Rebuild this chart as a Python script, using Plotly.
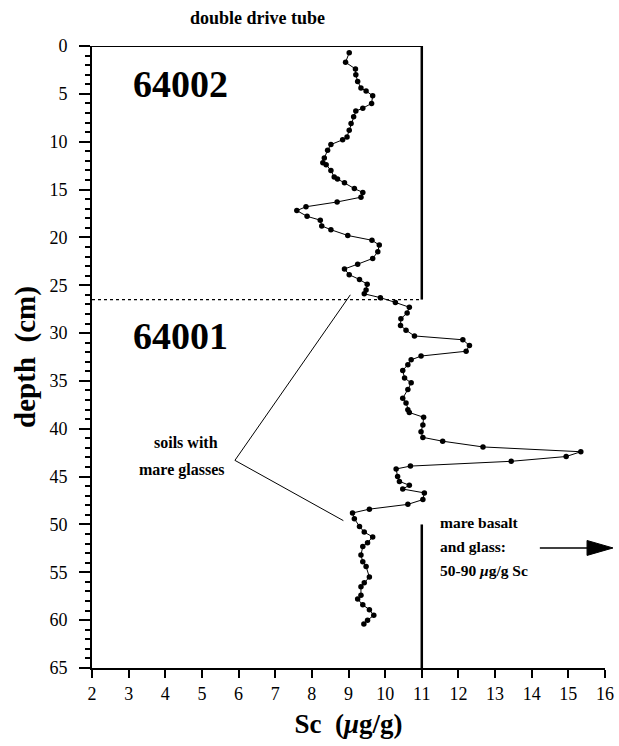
import plotly.graph_objects as go

# Depth profile of Sc in double drive tube 64002/64001
depth_cm = [0.7, 1.7, 2.4, 3.0, 3.7, 4.4, 4.7, 5.2, 6.0, 6.5, 6.8, 7.4, 8.1, 8.8, 9.5, 9.8,
            10.3, 10.9, 11.7, 12.2, 12.4, 13.0, 13.7, 13.9, 14.3, 14.9, 15.3, 15.8, 16.3,
            16.8, 17.2, 17.8, 18.2, 18.8, 19.2, 19.8, 20.3, 20.8, 21.5, 22.2, 22.8, 23.3,
            23.9, 24.4, 24.9, 25.5, 25.9, 26.3, 26.8, 27.3, 27.9, 28.5, 29.2, 29.7, 30.3,
            30.7, 31.3, 31.9, 32.4, 32.8, 33.3, 33.9, 34.7, 35.2, 35.9, 36.8, 37.3, 38.0,
            38.3, 38.8, 39.6, 40.3, 40.9, 41.3, 41.9, 42.4, 42.9, 43.4, 43.9, 44.2, 45.0,
            45.5, 45.9, 46.3, 46.7, 47.4, 47.9, 48.4, 48.8, 49.4, 50.2, 50.8, 51.3, 51.9,
            52.3, 53.2, 53.9, 54.4, 55.5, 56.1, 56.5, 57.4, 57.8, 58.4, 58.9, 59.5, 60.0, 60.4]
sc_ugg = [9.02, 8.92, 9.19, 9.20, 9.25, 9.34, 9.48, 9.66, 9.63, 9.39, 9.20, 9.14, 9.07, 9.02,
          8.96, 8.84, 8.52, 8.43, 8.34, 8.30, 8.39, 8.52, 8.61, 8.70, 8.89, 9.16, 9.39, 9.34,
          8.69, 7.84, 7.59, 7.87, 8.23, 8.27, 8.52, 8.98, 9.64, 9.84, 9.80, 9.66, 9.25, 8.89,
          9.02, 9.30, 9.51, 9.48, 9.43, 9.87, 10.28, 10.66, 10.60, 10.43, 10.42, 10.57, 10.80,
          12.12, 12.30, 12.21, 10.98, 10.71, 10.62, 10.48, 10.53, 10.71, 10.62, 10.48, 10.57,
          10.62, 10.66, 11.05, 11.03, 10.98, 11.03, 11.57, 12.67, 15.34, 14.94, 13.44, 10.69,
          10.30, 10.34, 10.39, 10.66, 10.48, 11.07, 11.03, 10.62, 9.57, 9.11, 9.16, 9.30, 9.43,
          9.66, 9.52, 9.39, 9.34, 9.39, 9.48, 9.57, 9.43, 9.34, 9.34, 9.25, 9.39, 9.57, 9.69,
          9.52, 9.42]

x_ticks = list(range(2, 17))
y_ticks = list(range(0, 66, 5))
boundary_depth = 26.5
FONT = "Liberation Serif"

fig = go.Figure()
fig.add_trace(go.Scatter(
    x=sc_ugg, y=depth_cm, mode="lines+markers",
    line=dict(color="black", width=1),
    marker=dict(color="black", size=5.5),
    showlegend=False, hoverinfo="skip"))

# structural lines
fig.add_shape(type="line", xref="x", yref="y", x0=2, x1=11, y0=0, y1=0,
              line=dict(color="black", width=2))
fig.add_shape(type="line", xref="x", yref="y", x0=11, x1=11, y0=0, y1=boundary_depth,
              line=dict(color="black", width=2.5))
fig.add_shape(type="line", xref="x", yref="y", x0=2, x1=11, y0=boundary_depth, y1=boundary_depth,
              line=dict(color="black", width=1.2, dash="dot"))
fig.add_shape(type="line", xref="x", yref="y", x0=11, x1=11, y0=50, y1=65,
              line=dict(color="black", width=2.5))

# leader lines from label
fig.add_shape(type="line", xref="x", yref="y", x0=5.9, y0=43.3, x1=9.05, y1=26.0,
              line=dict(color="black", width=1))
fig.add_shape(type="line", xref="x", yref="y", x0=5.9, y0=43.3, x1=8.86, y1=49.6,
              line=dict(color="black", width=1))

# arrow (paper coords, outside plot allowed)
fig.add_shape(type="line", xref="paper", yref="paper", x0=0.873, x1=0.975, y0=0.193, y1=0.193,
              line=dict(color="black", width=1.5))
fig.add_shape(type="path", xref="paper", yref="paper",
              path="M 0.965 0.205 L 1.0156 0.193 L 0.965 0.181 Z",
              fillcolor="black", line=dict(color="black", width=1))

def ann(text, x, y, size, bold=False, xanchor="center", align="center", xref="x", yref="y"):
    t = f"<b>{text}</b>" if bold else text
    fig.add_annotation(text=t, x=x, y=y, xref=xref, yref=yref, showarrow=False,
                       font=dict(family=FONT, size=size, color="black"),
                       xanchor=xanchor, yanchor="middle", align=align)

ann("64002", 4.41, 4.0, 38, bold=True)
ann("64001", 4.41, 30.3, 38, bold=True)
ann("soils with", 4.57, 41.4, 16, bold=True)
ann("mare glasses", 4.45, 44.3, 16, bold=True)
ann("mare basalt", 11.45, 49.8, 15.5, bold=True, xanchor="left")
ann("and glass:", 11.45, 52.35, 15.5, bold=True, xanchor="left")
ann("50-90 <i>μ</i>g/g Sc", 11.45, 54.8, 15.5, bold=True, xanchor="left")
fig.add_annotation(text="<b>double drive tube</b>", x=(257 - 92) / 513, y=1.045,
                   xref="paper", yref="paper", showarrow=False,
                   xanchor="center", yanchor="middle",
                   font=dict(family=FONT, size=18, color="black"))

fig.update_xaxes(range=[2, 16], tickvals=x_ticks, ticktext=[str(v) for v in x_ticks],
                 showline=True, linecolor="black", linewidth=2, mirror=False,
                 ticks="outside", ticklen=8, tickwidth=2, tickcolor="black",
                 showgrid=False, zeroline=False,
                 tickfont=dict(family=FONT, size=18, color="black"),
                 title=dict(text="<b>Sc&nbsp;&nbsp;(<i>μ</i>g/g)</b>", standoff=12,
                            font=dict(family=FONT, size=27, color="black")))
fig.update_yaxes(range=[65, 0], tickvals=y_ticks, ticktext=[str(v) for v in y_ticks],
                 showline=True, linecolor="black", linewidth=2, mirror=False,
                 ticks="outside", ticklen=11, tickwidth=2, tickcolor="black",
                 ticklabelstandoff=8,
                 minor=dict(dtick=1, ticks="outside", ticklen=5, tickwidth=1.5,
                            tickcolor="black", showgrid=False),
                 showgrid=False, zeroline=False,
                 tickfont=dict(family=FONT, size=18, color="black"),
                 title=dict(text="<b>depth&nbsp;&nbsp;(cm)</b>", standoff=5,
                            font=dict(family=FONT, size=29, color="black")))

fig.update_layout(width=619, height=746, plot_bgcolor="white", paper_bgcolor="white",
                  margin=dict(l=92, r=14, t=46, b=78, autoexpand=False))
fig.write_html("out.html")
